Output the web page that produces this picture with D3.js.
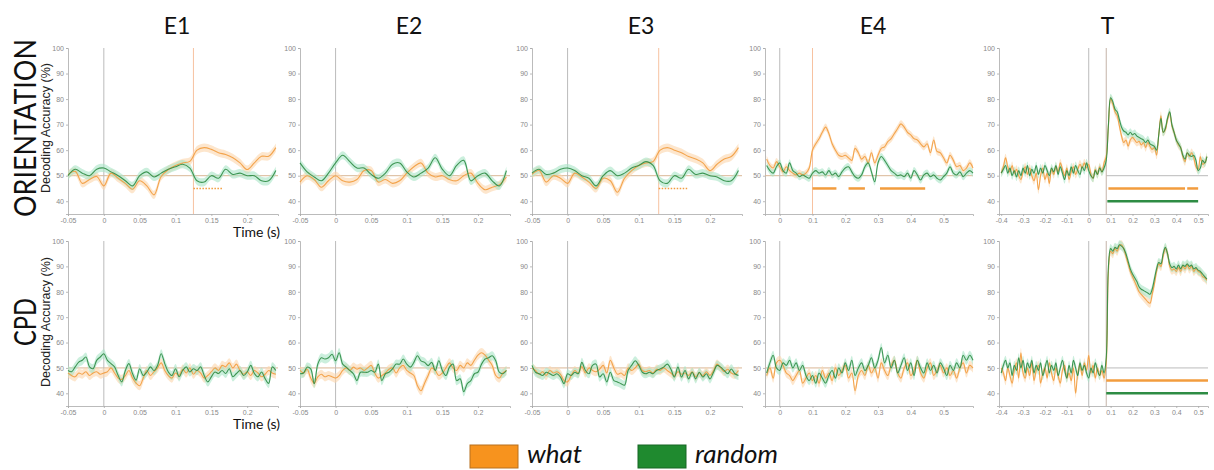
<!DOCTYPE html>
<html>
<head>
<meta charset="utf-8">
<script src="https://cdn.jsdelivr.net/npm/d3@7"></script>
<style>
  body { margin: 0; background: #fff; }
  .tick text { font-family: "Liberation Sans", Arial, sans-serif; font-size: 7px; fill: #888; }
  .domain, .tick line { stroke: #aaa; stroke-width: 0.8; }
  .title { font-family: Lato, "Open Sans", sans-serif; fill: #111; }
</style>
</head>
<body>
<div id="chart"></div>
<script>
// ---- data (decoding accuracy, %) ----
var colNames = ["E1", "E2", "E3", "E4", "T"];
var rowNames = ["ORIENTATION", "CPD"];
var legendNames = ["what", "random"];

// ORIENTATION row
var e1OriWhat = [50.4, 51.7, 47, 48.5, 49.7, 46, 51, 49, 47, 44.7, 48, 46, 42.5, 49.7, 52.4, 54, 55, 55.6, 60, 61, 60.3, 59, 58.3, 57, 55, 52.4, 55, 57.6, 57.6, 61];
var e1OriRandom = [50, 52.5, 51, 50, 52.5, 53, 51.5, 50, 48, 46, 50, 51.5, 49.5, 51, 52.5, 53.5, 54.5, 53, 48, 47.5, 50, 49, 52.5, 50.5, 51, 50, 50, 48, 48, 52];
var e2OriWhat = [47.5, 50, 48.5, 45.5, 48, 50, 48, 47.5, 48.5, 52, 52, 47.5, 48.5, 47, 48, 51, 53.5, 55, 51, 49.5, 50, 48.5, 48, 50, 51, 47, 44.5, 45.5, 46.5, 49.5];
var e2OriRandom = [55, 51.5, 49.5, 48, 51, 55, 58, 55.5, 53, 53, 50.5, 49, 51, 54.5, 55, 51.5, 49.5, 51, 53, 57, 52.5, 50, 54, 56, 48, 50, 51, 48, 46, 52];
var e3OriWhat = [50.5, 52, 47.5, 50, 49, 47, 51, 49.5, 47.5, 45, 49, 48, 43.5, 49, 52, 54, 55, 55.5, 60, 61, 60, 59, 57.5, 56.5, 55, 52, 54.5, 56.5, 57.5, 61];
var e3OriRandom = [51, 52.5, 50.5, 51, 52.5, 53, 52, 50, 49, 46, 50, 52, 50, 51, 53, 54, 55.5, 54, 48, 47, 50, 49, 52.5, 50.5, 51, 50, 49.5, 48, 48, 52];
var e4OriWhat = [56.5, 54, 53, 55.5, 53.5, 51.5, 53.5, 52, 51, 50.3, 51, 50.3, 51, 53, 60, 62.5, 64.5, 67, 69, 66.5,
  62.5, 60, 58, 57.5, 58, 57, 56, 60.7, 59, 56.5, 57.5, 55, 59, 55, 58, 60.7, 61.3, 63.3, 64.5, 66.5,
  68.5, 70.3, 69, 67, 66, 64.5, 64, 62.5, 61.3, 62.5, 59, 64, 59.5, 59, 57, 55, 58, 56, 53.5, 54, 52, 53, 55, 53];
var e4OriRandom = [54, 52, 51, 53.5, 55, 52, 51, 55, 52, 51, 49.6, 50.3, 49.6, 49, 51, 52, 51, 51.5, 50.3, 52,
  50.3, 51, 49.6, 51.5, 53, 53.5, 51.5, 49.6, 49, 50.3, 53.5, 55, 51.5, 47.6, 55, 57.5, 56, 54, 52, 51,
  50, 50.3, 49.6, 51, 49, 52, 50.3, 48.3, 50.3, 51, 49.6, 50.3, 49, 48.3, 49.6, 51, 53.5, 51, 50.3, 51.5, 49.6, 51, 52, 51];
var tOriWhat = [51, 53.5, 57, 53.5, 51.5, 54, 51, 52.5, 50, 48.5,
  51.5, 53.5, 50.5, 53, 50, 48, 51, 44.5, 50, 53,
  48.5, 51, 47, 52.5, 50.5, 53.5, 51.5, 55, 52.5, 50,
  53, 48.5, 51.5, 53.5, 50.5, 52.5, 54.5, 53, 55, 53,
  54.5, 50.5, 49, 52.5, 50.5, 53.5, 51.5, 55, 57.5, 69.5,
  80, 78, 75, 73.5, 69.5, 65.5, 63, 64, 61.5, 64,
  65, 64, 63, 63.5, 62, 63, 61, 63, 61.5, 60.3,
  61, 58, 66, 73.5, 67, 68, 72, 74.5, 69.5, 67,
  64, 62, 61, 57.5, 55.5, 59, 57.5, 59, 57, 53.5,
  52.5, 57.5, 54.5, 55, 57.5];
var tOriRandom = [51, 52.5, 54, 51, 53, 50, 52, 49.5, 52, 50,
  53, 51, 54, 50, 52.5, 51, 54, 50.5, 53, 51,
  54, 52, 50, 53, 51.5, 54, 50.5, 53.5, 51, 48.5,
  52, 50, 53.5, 51, 54, 52, 50.5, 53.5, 52, 55,
  52, 50, 49, 52, 50.5, 53, 51.5, 53, 56, 70,
  80.5, 79, 76, 75, 72, 69, 67.5, 67, 66, 67,
  66, 66.5, 65.5, 65, 64.5, 64, 63, 64, 62.5, 62,
  61.5, 60, 66, 72.5, 67, 68.5, 72.5, 75, 70, 67,
  64, 62.5, 61, 58, 56.5, 59, 58, 57.5, 58, 56,
  52, 53, 56, 55, 57.5];

// CPD row
var e1CpdWhat = [48, 47, 46.5, 48, 47.5, 48.5, 47, 48, 48.5, 47.5, 48, 48.5, 50, 48, 46, 45.5, 47, 49, 46, 44,
  43, 46, 49, 47, 48.5, 50, 52, 49, 47, 46, 48, 47, 49.5, 48, 50, 47.5, 49, 48, 46, 47,
  48.5, 50, 49, 51, 50.5, 52, 50, 51.5, 49, 47.5, 48.5, 47, 49, 48, 46.5, 47.5, 49, 48, 47.5];
var e1CpdRandom = [49, 48.5, 50.4, 52.3, 53, 54.3, 50.4, 49.7, 53, 54.3, 55.6, 53, 51.7, 50.4, 47, 44.5, 49, 51.7, 47.8, 45.2,
  49.7, 47, 48.4, 50.4, 49, 51, 55.6, 51.7, 48.4, 47, 49.7, 46.5, 49, 50.4, 48.4, 49.7, 49, 50.4, 47, 44.5,
  46.5, 48.4, 47.8, 49, 47.8, 49.7, 46.5, 47.8, 49, 47, 48.4, 51, 47.8, 46.5, 48.4, 45.8, 43.9, 50.4, 49];
var e2CpdWhat = [49, 48, 49.5, 46, 44, 46.5, 47.5, 46.5, 47, 46.5, 46, 47, 49, 50, 49, 50.3, 49.5, 50, 49, 50,
  51, 48, 46, 47, 48, 49.5, 50, 48, 50, 51, 49, 48, 47, 43, 41, 44, 47, 50, 49, 47,
  48, 50, 52, 50, 49, 51, 50, 52, 51, 53, 55, 56, 55, 53, 51, 47, 46, 48, 49];
var e2CpdRandom = [47.7, 48, 50.3, 49.6, 43.8, 51.5, 54, 53.5, 54, 55.4, 52.8, 56, 51.5, 50.3, 49, 47.7, 45, 48.3, 48.3, 48.3,
  49, 48.3, 51.5, 45, 47.7, 48.3, 49.6, 51.5, 51.5, 53.5, 51.5, 50.3, 52.2, 54.8, 52.8, 52.2, 50.9, 52.2, 49, 52.8,
  49, 47, 50.3, 51.5, 45, 45.7, 40.6, 43.8, 45, 47.7, 48.3, 51.5, 53.5, 54, 54.8, 52.8, 48.3, 47.7, 49];
var e3CpdWhat = [50, 49, 47.5, 48.5, 47, 49, 48, 48.5, 47.5, 45, 44.5, 47, 49, 48, 50.5, 48, 50, 49, 48.5, 49.5,
  51, 48, 53, 50, 47.5, 48, 47, 50, 49, 50, 51.5, 49, 48.5, 49, 48, 49.5, 49, 50, 49, 48,
  47, 48.5, 47.5, 48, 47, 48.5, 46.5, 48, 47, 48.5, 47, 49, 51.5, 50, 48.5, 49.5, 48, 47.5, 49];
var e3CpdRandom = [51, 48.3, 47.7, 47, 48.3, 47.7, 47, 47.7, 46.4, 43.8, 47.7, 47, 48.3, 47.7, 52.2, 49, 47.7, 51, 51.5, 46.4,
  47.7, 44.5, 48.3, 45, 44.5, 43.8, 43.2, 49, 51, 52.8, 51, 48.3, 47.7, 48.3, 47.7, 49, 49.6, 50.3, 51.5, 49.6,
  46.4, 50.3, 46.4, 49, 45.7, 48.3, 45.7, 48.3, 46.4, 47.7, 45.7, 48.3, 51, 50.3, 49, 47.7, 49.6, 47.7, 47];
var e4CpdWhat = [47, 50, 46, 52, 53, 51, 48, 47, 45, 47, 49, 44, 46, 48, 45, 47, 44, 49, 46, 48,
  45, 50, 47, 49, 51, 46, 48, 41, 47, 49, 47, 51, 48, 50, 46, 52, 49, 47, 51, 53,
  48, 46, 50, 52, 47, 49, 53, 48, 46, 50, 52, 47, 49, 51, 48, 50, 47, 49, 46, 50, 52, 48, 51, 50];
var e4CpdRandom = [48, 52, 55, 50, 49, 52, 51, 53, 50, 52, 49, 51, 47, 45, 47, 44, 48, 46, 44, 47,
  49, 46, 50, 48, 52, 49, 53, 47, 50, 52, 49, 51, 54, 50, 53, 58, 52, 55, 50, 53,
  48, 51, 54, 49, 52, 47, 53, 50, 48, 52, 49, 51, 48, 52, 50, 47, 51, 49, 52, 50, 55, 53, 55, 53];
var tCpdWhat = [50, 48, 45, 50, 47, 44, 49, 52, 46, 56,
  48, 46, 50, 47, 52, 45, 49, 51, 44, 48,
  50, 46, 52, 48, 45, 50, 47, 44, 49, 51,
  46, 48, 45, 50, 40, 48, 51, 47, 52, 49,
  55, 48, 51, 46, 50, 47, 49, 46, 52, 88,
  96, 95, 97, 96, 98, 98.5, 97, 94, 91, 88,
  86, 84, 82, 80, 79, 78, 77, 76, 75.5, 79,
  83, 88, 91, 90, 94, 97, 95, 90, 88.5, 89,
  88, 89.5, 88, 90, 89, 90.5, 89, 90, 88, 89,
  88, 87.5, 86, 85.5, 84.5];
var tCpdRandom = [48, 51, 53, 50, 52, 47, 51, 49, 54, 50,
  53, 48, 52, 50, 53, 48, 51, 49, 52, 47,
  50, 53, 48, 51, 49, 52, 47, 50, 53, 49,
  46, 51, 48, 53, 50, 47, 52, 49, 51, 48,
  46, 50, 48, 52, 49, 47, 51, 48, 54, 90,
  97, 96, 97.5, 97, 98.5, 98, 97, 95, 92, 89,
  87, 85.5, 84, 82, 81, 80.5, 80, 79.5, 79, 81,
  85, 89, 91.5, 91, 95, 97.5, 95, 91, 89.5, 90,
  89, 90.5, 89, 90.5, 90, 91, 90, 90.5, 89, 89.5,
  88.5, 88, 87, 86, 85];

// significance bars [start, end] in seconds
var sigE1Ori = [[0.125, 0.165]];
var sigE3Ori = [[0.128, 0.168]];
var sigE4OriWhat = [[0.1, 0.173], [0.21, 0.26], [0.306, 0.444]];
var sigTOriWhat = [[0.09, 0.44], [0.45, 0.5]];
var sigTOriRandom = [[0.085, 0.5]];
var sigTCpdWhat = [[0.08, 0.545]];
var sigTCpdRandom = [[0.08, 0.545]];

var yTicks = [40, 50, 60, 70, 80, 90, 100];
var shortTicks = [-0.05, 0, 0.05, 0.1, 0.15, 0.2];
var e4Ticks = [0, 0.1, 0.2, 0.3, 0.4, 0.5];
var tTicks = [-0.4, -0.3, -0.2, -0.1, 0, 0.1, 0.2, 0.3, 0.4, 0.5];

// ---- layout ----
var svgWidth = 1214;
var svgHeight = 470;
var colors = {what: "#f29c3e", whatBand: "#fcd6ac", random: "#2e8c44", randomBand: "#a9e4c6"};

var svg = d3.select("#chart")
  .append("svg")
  .attr("width", svgWidth)
  .attr("height", svgHeight);

var columns = [
  {x0: 68, x1: 278, domain: [-0.05, 0.243], ticks: shortTicks},
  {x0: 300, x1: 510, domain: [-0.05, 0.245], ticks: shortTicks},
  {x0: 532, x1: 742, domain: [-0.05, 0.245], ticks: shortTicks},
  {x0: 765, x1: 973, domain: [-0.045, 0.59], ticks: e4Ticks},
  {x0: 999, x1: 1208, domain: [-0.41, 0.545], ticks: tTicks}
];
var rows = [
  {top: 48, bottom: 214, center: 128},
  {top: 241, bottom: 406, center: 322}
];

var panels = [
  {c: 0, r: 0, t0: -0.05, step: 0.01, what: e1OriWhat, random: e1OriRandom, sem: 1.6, vline: 0.125, sigDots: sigE1Ori},
  {c: 1, r: 0, t0: -0.05, step: 0.01, what: e2OriWhat, random: e2OriRandom, sem: 1.6},
  {c: 2, r: 0, t0: -0.05, step: 0.01, what: e3OriWhat, random: e3OriRandom, sem: 1.6, vline: 0.128, sigDots: sigE3Ori},
  {c: 3, r: 0, t0: -0.04, step: 0.01, what: e4OriWhat, random: e4OriRandom, sem: 1.4, vline: 0.1, sigWhat: sigE4OriWhat},
  {c: 4, r: 0, t0: -0.4, step: 0.01, what: tOriWhat, random: tOriRandom, sem: 1.6, vline: 0.08, grayV: true, half: true, sigWhat: sigTOriWhat, sigRandom: sigTOriRandom},
  {c: 0, r: 1, t0: -0.05, step: 0.005, what: e1CpdWhat, random: e1CpdRandom, sem: 1.8},
  {c: 1, r: 1, t0: -0.05, step: 0.005, what: e2CpdWhat, random: e2CpdRandom, sem: 1.8},
  {c: 2, r: 1, t0: -0.05, step: 0.005, what: e3CpdWhat, random: e3CpdRandom, sem: 1.8},
  {c: 3, r: 1, t0: -0.04, step: 0.01, what: e4CpdWhat, random: e4CpdRandom, sem: 1.8},
  {c: 4, r: 1, t0: -0.4, step: 0.01, what: tCpdWhat, random: tCpdRandom, sem: 1.8, vline: 0.08, grayV: true, half: true, sigWhat: sigTCpdWhat, sigRandom: sigTCpdRandom}
];

function fmt(d) {
  if (d === 0) return "0";
  return String(d).replace("-", "-");
}

panels.forEach(function(p) {
  var col = columns[p.c], row = rows[p.r];
  var x = d3.scaleLinear().domain(col.domain).range([col.x0, col.x1]);
  var y = d3.scaleLinear().domain([35, 100]).range([row.bottom, row.top]);
  var g = svg.append("g");

  // axes
  g.append("g")
    .attr("transform", `translate(${col.x0},0)`)
    .call(d3.axisLeft(y).tickValues(yTicks).tickSize(2).tickPadding(2));
  g.append("g")
    .attr("transform", `translate(0,${row.bottom})`)
    .call(d3.axisBottom(x).tickValues(col.ticks).tickFormat(fmt).tickSize(2).tickPadding(2));

  // chance line
  var chanceStart = p.half ? p.vline : col.domain[0];
  g.append("line")
    .attr("x1", x(chanceStart)).attr("x2", x(col.domain[1]))
    .attr("y1", y(50)).attr("y2", y(50))
    .attr("stroke", p.half ? "#bbb" : "#d9b796").attr("stroke-width", 1);

  // stimulus onset line
  g.append("line")
    .attr("x1", x(0)).attr("x2", x(0))
    .attr("y1", y(100)).attr("y2", row.bottom)
    .attr("stroke", "#bbb").attr("stroke-width", 1);

  if (p.vline !== undefined) {
    g.append("line")
      .attr("x1", x(p.vline)).attr("x2", x(p.vline))
      .attr("y1", y(100)).attr("y2", row.bottom)
      .attr("stroke", p.grayV ? "#c4b4a8" : "#f7c2a0").attr("stroke-width", 1);
  }

  var series = [
    {vals: p.what, line: colors.what, band: colors.whatBand},
    {vals: p.random, line: colors.random, band: colors.randomBand}
  ];
  series.forEach(function(s) {
    var pts = s.vals.map(function(v, i) { return {t: p.t0 + i * p.step, v: v}; });
    var area = d3.area()
      .x(d => x(d.t))
      .y0(d => y(d.v - p.sem))
      .y1(d => y(d.v + p.sem))
      .curve(d3.curveCatmullRom.alpha(0.5));
    g.append("path").datum(pts)
      .attr("d", area)
      .attr("fill", s.band)
      .attr("fill-opacity", 0.6);
    s.pts = pts;
  });
  series.forEach(function(s) {
    var line = d3.line()
      .x(d => x(d.t))
      .y(d => y(d.v))
      .curve(d3.curveCatmullRom.alpha(0.5));
    g.append("path").datum(s.pts)
      .attr("d", line)
      .attr("fill", "none")
      .attr("stroke", s.line)
      .attr("stroke-width", 1.1)
      .attr("stroke-opacity", 0.9);
  });

  // significance bars
  if (p.sigDots) {
    p.sigDots.forEach(function(seg) {
      g.append("line")
        .attr("x1", x(seg[0])).attr("x2", x(seg[1]))
        .attr("y1", y(45)).attr("y2", y(45))
        .attr("stroke", colors.what).attr("stroke-width", 1.4)
        .attr("stroke-dasharray", "1.5,1.5");
    });
  }
  if (p.sigWhat) {
    p.sigWhat.forEach(function(seg) {
      g.append("line")
        .attr("x1", x(seg[0])).attr("x2", x(seg[1]))
        .attr("y1", y(45)).attr("y2", y(45))
        .attr("stroke", colors.what).attr("stroke-width", 2.5);
    });
  }
  if (p.sigRandom) {
    p.sigRandom.forEach(function(seg) {
      g.append("line")
        .attr("x1", x(seg[0])).attr("x2", x(seg[1]))
        .attr("y1", y(40)).attr("y2", y(40))
        .attr("stroke", colors.random).attr("stroke-width", 2.5);
    });
  }
});

// column titles
columns.forEach(function(col, i) {
  svg.append("text")
    .attr("class", "title")
    .attr("x", (col.x0 + col.x1) / 2 + 4)
    .attr("y", 34)
    .attr("text-anchor", "middle")
    .attr("font-size", 23)
    .text(colNames[i]);
});

// row titles + y labels
rows.forEach(function(row, i) {
  var t = svg.append("text")
    .attr("class", "title")
    .attr("transform", `translate(36,${row.center}) rotate(-90)`)
    .attr("text-anchor", "middle")
    .attr("font-size", 31)
    .text(rowNames[i]);
  t.attr("textLength", i === 0 ? 178 : 48).attr("lengthAdjust", "spacingAndGlyphs");

  svg.append("text")
    .attr("transform", `translate(50,${row.center}) rotate(-90)`)
    .attr("text-anchor", "middle")
    .attr("font-family", "'Liberation Sans', Arial, sans-serif")
    .attr("font-size", 12.5)
    .attr("fill", "#222")
    .text("Decoding Accuracy (%)");

  svg.append("text")
    .attr("class", "title")
    .attr("x", 280)
    .attr("y", row.bottom + 23)
    .attr("text-anchor", "end")
    .attr("font-size", 14)
    .text("Time (s)");
});

// legend
var legend = [
  {x: 470, fill: "#f7931e", stroke: "#b8701e"},
  {x: 638, fill: "#1f8a2f", stroke: "#176624"}
];
legend.forEach(function(l, i) {
  svg.append("rect")
    .attr("x", l.x).attr("y", 445)
    .attr("width", 48).attr("height", 23)
    .attr("fill", l.fill).attr("stroke", l.stroke).attr("stroke-width", 1);
  svg.append("text")
    .attr("class", "title")
    .attr("x", l.x + 57)
    .attr("y", 463)
    .attr("font-size", 26)
    .attr("font-style", "italic")
    .text(legendNames[i]);
});
</script>
</body>
</html>
